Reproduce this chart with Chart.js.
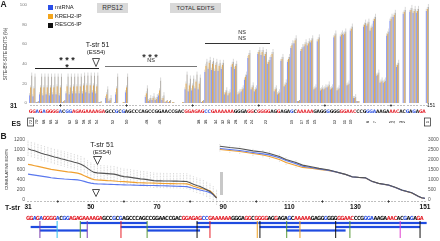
<!DOCTYPE html>
<html>
<head>
<meta charset="utf-8">
<script src="https://cdn.jsdelivr.net/npm/chart.js@4"></script>
<style>
  body { margin: 0; background: #fff; }
  #wrap { position: relative; width: 440px; height: 241px; overflow: hidden;
          font-family: "Liberation Sans", Arial, sans-serif; color: #222; }
  canvas { position: absolute; left: 0; }
  .t { position: absolute; white-space: nowrap; line-height: 1; }
  .c { transform: translate(-50%, -50%); }
  .l { transform: translateY(-50%); }
  .b { font-weight: bold; }
  .box { position: absolute; background: #d9d9d9; display: flex; align-items: center;
         justify-content: center; line-height: 1; color: #333; }
  .sq { position: absolute; width: 5px; height: 5px; }
  .hl { position: absolute; height: 0.8px; }
</style>
</head>
<body>
<div id="wrap">
  <canvas id="ca" width="440" height="128" style="top:0"></canvas>
  <canvas id="cb" width="440" height="113" style="top:128px"></canvas>

  <!-- panel A labels -->
  <div class="t l b" style="left:0.5px;top:4px;font-size:8.5px">A</div>
  <div class="sq" style="left:48px;top:5px;background:#2b4fe8"></div>
  <div class="sq" style="left:48px;top:14px;background:#f3a51c"></div>
  <div class="sq" style="left:48px;top:22.5px;background:#111"></div>
  <div class="t l" style="left:55px;top:7.5px;font-size:5.8px">mtRNA</div>
  <div class="t l" style="left:55px;top:16.5px;font-size:5.8px">KREH2-IP</div>
  <div class="t l" style="left:55px;top:25px;font-size:5.8px">RESC6-IP</div>
  <div class="box" style="left:97px;top:3px;width:31px;height:10px;font-size:6.5px">RPS12</div>
  <div class="box" style="left:170px;top:3px;width:51px;height:10px;font-size:6px">TOTAL EDITS</div>

  <div class="t c" style="left:97.5px;top:44px;font-size:7px">T-str 51</div>
  <div class="t c" style="left:96px;top:52px;font-size:6px">(ES54)</div>
  <svg class="t" style="left:92px;top:58px" width="8" height="9"><polygon points="0.5,0.5 7.5,0.5 4,8.5" fill="#fff" stroke="#222" stroke-width="0.8"/></svg>

  <div class="t c b" style="left:67px;top:60px;font-size:9px">* * *</div>
  <div class="t c b" style="left:67px;top:67px;font-size:9px">*</div>
  <div class="hl" style="left:35px;top:68px;width:64px;background:#222"></div>

  <div class="t c b" style="left:150px;top:56.5px;font-size:9px;color:#333">* * *</div>
  <div class="t c" style="left:151px;top:61px;font-size:5.5px">NS</div>
  <div class="hl" style="left:105px;top:65.5px;width:92px;background:#777"></div>

  <div class="t c" style="left:242px;top:33px;font-size:5.5px">NS</div>
  <div class="t c" style="left:242px;top:39px;font-size:5.5px">NS</div>
  <div class="hl" style="left:205px;top:42.5px;width:65px;background:#333"></div>

  <div class="t l b" style="left:10px;top:105.5px;font-size:6.5px">31</div>
  <div class="t l" style="left:427px;top:105px;font-size:5px">151</div>
  <div class="t l b" style="left:11.5px;top:122.5px;font-size:7px">ES</div>

  <!-- panel B labels -->
  <div class="t l b" style="left:0.5px;top:136px;font-size:8.5px">B</div>
  <div class="t c" style="left:102px;top:144px;font-size:7px">T-str 51</div>
  <div class="t c" style="left:102px;top:152px;font-size:6px">(ES54)</div>
  <svg class="t" style="left:93px;top:156px" width="9" height="9"><polygon points="0.5,0.5 8.5,0.5 4.5,8.5" fill="#fff" stroke="#222" stroke-width="0.8"/></svg>
  <svg class="t" style="left:92px;top:189px" width="8" height="8"><polygon points="0.5,0.5 7.5,0.5 4,7.5" fill="#fff" stroke="#222" stroke-width="0.8"/></svg>
  <div style="position:absolute;left:220px;top:172px;width:2.5px;height:23px;background:#c8c8c8"></div>
  <div class="t l b" style="left:5px;top:207px;font-size:7px">T-str</div>
</div>

<script>
// ---- panel A: site-by-site edits (%) at positions 31..151 ----
const positions = [];
for (let p = 31; p <= 151; p++) positions.push(p);

const mtRNA = [8,7,1,9,8,9,8,9,9,8, 1,10,9,10,10,10,10,11,10,11,
  10,1,0,5,2,0,9,0,0,11, 0,0,0,0,0,6,2,3,3,8,
  3,1,1,0,0,0,0,14,12,13, 15,14,1,32,35,34,33,33,35,9,
  8,37,35,9,12,24,46,14,12,50, 49,48,40,47,12,9,43,17,42,56,
  61,2,53,58,59,62,14,63,13,14, 16,14,67,13,68,70,18,74,5,2,
  0,78,79,74,84,28,21,21,69,84, 88,37,0,91,0,93,92,92,0,0, 94];
const kreh2 = [16,15,1,16,16,16,16,16,17,16, 2,17,16,17,17,17,18,18,18,18,
  17,1,0,9,3,0,15,0,1,16, 0,0,0,0,0,10,3,5,4,13,
  5,2,2,1,0,0,1,20,18,18, 22,20,2,38,41,40,39,38,39,11,
  10,40,38,10,14,27,49,16,14,52, 52,50,42,50,14,10,45,19,45,59,
  64,2,55,60,61,64,15,65,14,15, 17,15,69,14,70,71,19,76,5,2,
  0,80,81,77,86,29,22,22,71,86, 90,39,0,93,0,95,94,94,0,0, 96];
const resc6 = [28,27,2,27,27,27,27,27,27,27, 3,27,27,27,27,27,28,28,28,28,
  28,2,0,14,5,1,27,0,1,27, 0,0,0,0,0,15,5,7,6,23,
  8,3,3,1,0,0,1,29,25,25, 29,26,3,42,44,43,42,41,41,13,
  11,42,40,11,15,29,51,18,15,54, 54,52,44,52,15,11,47,21,47,61,
  66,3,57,62,63,66,16,67,15,16, 19,16,71,15,71,73,20,78,6,2,
  0,82,83,78,88,31,23,23,73,88, 92,41,0,95,0,97,96,96,0,0, 98];

// mRNA sequence 31..151 and letter colour codes (r red, b blue, k black)
const seq = 'GGAGAGGGGACGGAGAGAAAAGAGCCGCGAGCCCAGCCGGAACCGACGGAGAGCCGAAA' +
            'AAAGGGAGGCGGGGAGGAGAGCAAAAAGAGGGGGGGGAACCCGGGAAAGAAACACGAGAGA';
const seqCol = 'rrbrbrrrrbkbbrrrrrrrrrrkkkbkbkkkkkkkkkkkkkkkkkkrrrrrrbbrrrr' +
               'rrrkkkkrrkrrrrkkrkkkbkrrrrrkkkkbkkkrrrrrkkkbbbkkkkrrrkkbkbkrrr';

// editing-site labels
const esPos = [31,33,35,37,39,43,45,47,49,51,56,60,66,70,82,84,87,89,91,93,96,98,102,
               110,113,115,117,123,126,128,133,135,140,141,143,144,151];
const esLab = ['72','70','68','66','64','62','60','58','56','54','52','50','48','46','38','36',
               '34','32','30','28','26','24','22','19','17','16','15','12','11','10','8','7',
               '5','4','3','2','1'];
const esBoxed = [31, 151];
const plusPos = [40, 60, 80, 100, 120, 140];

// ---- panel B: cumulative edits ----
const bLeftPos = [31,32,33,34,35,36,37,38,39,40,41,42,43,44,45,46,47,48,49,50,51,52,53,54,55,56,57,58,59,
  60,61,62,63,64,65,66,67,68,69,70,71,72,73,74,75,76,77,78,79,80,81,82,83,84,85,86,87,88];
const bLeftResc6 = [1015,990,975,950,925,905,890,870,850,835,815,800,780,765,745,730,705,670,620,575,540,
  530,525,520,515,510,505,490,470,455,450,440,430,420,410,405,395,385,375,370,370,368,368,366,365,365,
  362,360,358,330,300,275,255,225,190,155,100,30];
const bLeftKreh2 = [700,690,675,660,645,630,615,600,590,580,570,560,550,545,535,525,505,475,445,415,395,
  388,385,380,375,372,368,362,358,355,350,345,340,335,332,330,328,326,324,322,320,318,316,315,314,313,
  312,311,310,290,260,240,222,205,190,170,110,30];
const bLeftMtRNA = [505,495,485,475,465,455,445,432,425,418,412,406,402,398,394,390,378,360,340,325,315,
  310,308,305,302,300,298,295,292,290,288,286,284,282,280,279,278,277,276,275,273,271,269,267,265,262,
  260,258,255,238,220,205,188,170,155,134,90,25];

const bRightPos = [89,92,95,99,102,104,107,109,112,114,117,119,122,124,127,129,131,133,135,137,140,142,144,147,149,150,151];
const bRightResc6 = [2665,2600,2550,2430,2370,2300,2150,2000,1850,1715,1620,1550,1470,1380,1250,1130,1100,1080,900,800,715,600,465,330,150,80,50];
const bRightKreh2 = [2500,2450,2400,2300,2220,2150,2000,1850,1700,1600,1550,1500,1440,1370,1240,1120,1090,1070,890,790,705,590,455,320,140,70,40];
const bRightMtRNA = [2550,2500,2450,2350,2280,2230,2080,1950,1780,1660,1580,1520,1450,1375,1245,1125,1095,1075,895,795,710,595,460,325,145,75,45];

const bTickLabels = [31, 50, 70, 90, 110, 130, 151];

// guide RNA coverage (sequence positions, lane)
const gStart = [31.8, 34.6, 46.8, 59, 67, 82, 101, 100.7, 124, 109];
const gEnd   = [39.7, 48.9, 67, 86, 83, 100.7, 113, 151.5, 149.5, 127];
const gLane  = [1, 2, 0, 1, 2, 0, 1, 0, 1, 2];
const gTickPos = [34.6, 39.8, 46.8, 48.9, 59.1, 67, 82.1, 86, 100.3, 101.1, 109.2, 113.2, 124, 128.3, 143.5, 149.5];
const gTickCol = ['#7b3fb0','#2fc0f0','#5a9a3a','#7b3fb0','#e8202a','#5a9a3a','#111','#e8202a',
                  '#f0a020','#111','#5a9a3a','#f0a020','#111','#5a9a3a','#e040d0','#111'];

const letterColors = { r: '#e3202a', b: '#2a4fe0', k: '#111' };

// ---- drawing helpers ----
function dotsRow(ctx, xAt, n, y, plusAt) {
  ctx.fillStyle = '#333';
  for (let i = 0; i < n; i++) ctx.fillRect(Math.round(xAt(i)) - 0.4, y - 0.4, 0.8, 0.8);
  plusAt.forEach(p => {
    const x = plusAt.xOf(p);
    ctx.fillRect(x - 1.3, y - 0.4, 2.6, 0.8);
    ctx.fillRect(x - 0.4, y - 1.3, 0.8, 2.6);
  });
}

const aDeco = {
  id: 'aDeco',
  afterDatasetsDraw(chart) {
    const ctx = chart.ctx;
    const xs = chart.scales.x;
    ctx.save();
    // error whiskers
    ctx.strokeStyle = 'rgba(200,200,200,0.9)';
    ctx.lineWidth = 0.8;
    [0, 1, 2].forEach(d => {
      chart.getDatasetMeta(d).data.forEach((bar, i) => {
        if (resc6[i] < 4) return;
        ctx.beginPath();
        ctx.moveTo(bar.x, bar.y);
        ctx.lineTo(bar.x, bar.y - (d === 2 ? 3 : 2));
        ctx.stroke();
      });
    });
    // axis dots with plus marks
    const plus = plusPos.slice();
    plus.xOf = p => xs.getPixelForValue(p - 31);
    dotsRow(ctx, i => xs.getPixelForValue(i), positions.length, 105.5, plus);
    // sequence
    ctx.font = "bold 4.9px 'Liberation Sans Narrow', 'DejaVu Sans Condensed', sans-serif";
    ctx.textAlign = 'center';
    ctx.textBaseline = 'middle';
    for (let i = 0; i < seq.length; i++) {
      ctx.fillStyle = letterColors[seqCol[i]];
      ctx.fillText(seq[i], xs.getPixelForValue(i), 111.5);
    }
    // editing-site labels
    ctx.fillStyle = '#222';
    ctx.font = "4.2px 'Liberation Sans', sans-serif";
    esPos.forEach((p, k) => {
      const x = xs.getPixelForValue(p - 31);
      ctx.save();
      ctx.translate(x, 122);
      ctx.rotate(-Math.PI / 2);
      ctx.fillText(esLab[k], 0, 0);
      ctx.restore();
      if (esBoxed.includes(p)) {
        ctx.strokeStyle = '#222';
        ctx.lineWidth = 0.7;
        ctx.strokeRect(x - 3, 118, 6, 8);
      }
    });
    ctx.restore();
  }
};

const bDeco = {
  id: 'bDeco',
  beforeDatasetsDraw(chart) {
    const ctx = chart.ctx, xs = chart.scales.x, ys = chart.scales.y, y2 = chart.scales.y2;
    ctx.save();
    ctx.strokeStyle = 'rgba(150,150,150,0.75)';
    ctx.lineWidth = 0.6;
    ctx.setLineDash([0.8, 0.8]);
    bLeftPos.forEach((p, i) => {
      const x = xs.getPixelForValue(p), y = ys.getPixelForValue(bLeftResc6[i]);
      ctx.beginPath(); ctx.moveTo(x, y - 8); ctx.lineTo(x, y + 8); ctx.stroke();
    });
    bRightPos.forEach((p, i) => {
      if (p > 112) return;
      const x = xs.getPixelForValue(p), y = y2.getPixelForValue(bRightResc6[i]);
      ctx.beginPath(); ctx.moveTo(x, y - 2); ctx.lineTo(x, y + 6); ctx.stroke();
    });
    ctx.restore();
  },
  afterDatasetsDraw(chart) {
    const ctx = chart.ctx, xs = chart.scales.x;
    ctx.save();
    const plus = plusPos.slice();
    plus.xOf = p => xs.getPixelForValue(p);
    dotsRow(ctx, i => xs.getPixelForValue(31 + i), positions.length, 73.5, plus);
    // x labels
    ctx.fillStyle = '#111';
    ctx.font = "bold 6.5px 'Liberation Sans', sans-serif";
    ctx.textAlign = 'center';
    ctx.textBaseline = 'middle';
    bTickLabels.forEach(p => ctx.fillText(String(p), xs.getPixelForValue(p), 79));
    // sequence
    ctx.font = "bold 5.6px 'Liberation Sans Narrow', 'DejaVu Sans Condensed', sans-serif";
    for (let i = 0; i < seq.length; i++) {
      ctx.fillStyle = letterColors[seqCol[i]];
      ctx.fillText(seq[i], xs.getPixelForValue(31 + i), 90.5);
    }
    // guide RNA bars
    const laneY = [95, 99, 102.5];
    ctx.fillStyle = '#1f4be0';
    gStart.forEach((s, k) => {
      const x0 = xs.getPixelForValue(s), x1 = xs.getPixelForValue(gEnd[k]);
      ctx.fillRect(x0, laneY[gLane[k]] - 1.1, x1 - x0, 2.2);
    });
    gTickPos.forEach((p, k) => {
      ctx.fillStyle = gTickCol[k];
      ctx.fillRect(xs.getPixelForValue(p) - 0.5, 93, 1, 17);
    });
    ctx.restore();
  }
};

new Chart(document.getElementById('ca'), {
  type: 'bar',
  data: {
    labels: positions,
    datasets: [
      { label: 'mtRNA', data: mtRNA, backgroundColor: 'rgba(70,95,235,0.65)', categoryPercentage: 0.96, barPercentage: 0.96 },
      { label: 'KREH2-IP', data: kreh2, backgroundColor: 'rgba(215,145,40,0.8)', categoryPercentage: 0.96, barPercentage: 0.96 },
      { label: 'RESC6-IP', data: resc6, backgroundColor: 'rgba(80,70,60,0.45)', categoryPercentage: 0.96, barPercentage: 0.96 }
    ]
  },
  options: {
    responsive: false,
    animation: false,
    devicePixelRatio: 1,
    layout: { padding: { top: 5, right: 11, bottom: 25, left: 0 } },
    plugins: { legend: { display: false }, tooltip: { enabled: false } },
    scales: {
      x: { display: false },
      y: {
        min: 0, max: 100,
        ticks: { stepSize: 20, font: { size: 4.3 }, color: '#777', padding: 2, callback: v => String(v) },
        grid: { display: false, drawTicks: false },
        border: { display: false },
        title: { display: true, text: 'SITE-BY-SITE EDITS (%)', font: { size: 4.6 }, color: '#333', padding: { top: 3, bottom: 0 } },
        afterFit(s) { s.width = 29; }
      }
    }
  },
  plugins: [aDeco]
});

function pts(xsArr, ysArr) { return xsArr.map((x, i) => ({ x: x, y: ysArr[i] })); }
const lineStyle = { borderWidth: 1.1, pointRadius: 0, tension: 0, fill: false };

new Chart(document.getElementById('cb'), {
  type: 'line',
  data: {
    datasets: [
      Object.assign({ label: 'RESC6-IP', data: pts(bLeftPos, bLeftResc6), borderColor: '#555', yAxisID: 'y' }, lineStyle),
      Object.assign({ label: 'KREH2-IP', data: pts(bLeftPos, bLeftKreh2), borderColor: '#f0a030', yAxisID: 'y' }, lineStyle),
      Object.assign({ label: 'mtRNA', data: pts(bLeftPos, bLeftMtRNA), borderColor: '#5a78ee', yAxisID: 'y' }, lineStyle),
      Object.assign({ label: 'RESC6-IP', data: pts(bRightPos, bRightResc6), borderColor: '#555', yAxisID: 'y2' }, lineStyle),
      Object.assign({ label: 'mtRNA', data: pts(bRightPos, bRightMtRNA), borderColor: '#5a78ee', yAxisID: 'y2' }, lineStyle),
      Object.assign({ label: 'KREH2-IP', data: pts(bRightPos, bRightKreh2), borderColor: '#f0a030', yAxisID: 'y2' }, lineStyle)
    ]
  },
  options: {
    responsive: false,
    animation: false,
    devicePixelRatio: 1,
    layout: { padding: { top: 11.5, right: 0, bottom: 41.7, left: 0 } },
    plugins: { legend: { display: false }, tooltip: { enabled: false } },
    scales: {
      x: { type: 'linear', min: 31, max: 151, display: false },
      y: {
        position: 'left', min: 0, max: 1200,
        ticks: { stepSize: 200, font: { size: 5 }, color: '#555', padding: 3, callback: v => String(v) },
        grid: { display: false, drawTicks: false },
        border: { display: false },
        title: { display: true, text: 'CUMULATIVE EDITS', font: { size: 4.3 }, color: '#333', padding: { top: 4, bottom: 0 } },
        afterFit(s) { s.width = 28; }
      },
      y2: {
        position: 'right', min: 0, max: 3000,
        ticks: { stepSize: 500, font: { size: 4.8 }, color: '#555', padding: 3, callback: v => String(v) },
        grid: { display: false, drawTicks: false },
        border: { display: false },
        afterFit(s) { s.width = 15; }
      }
    }
  },
  plugins: [bDeco]
});
</script>
</body>
</html>
